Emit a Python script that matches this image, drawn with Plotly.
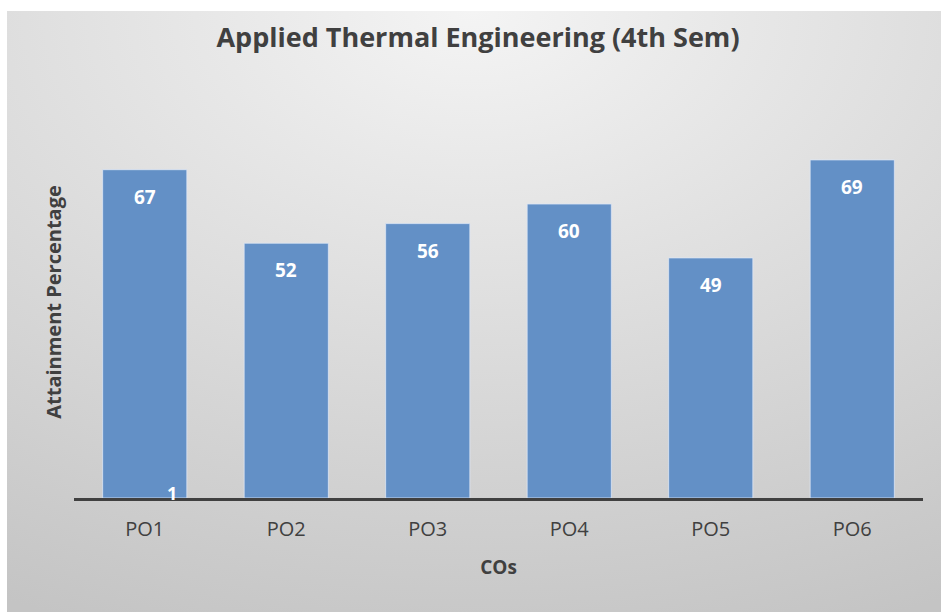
import plotly.graph_objects as go
import urllib.parse

categories = ["PO1", "PO2", "PO3", "PO4", "PO5", "PO6"]
values = [67, 52, 56, 60, 49, 69]
extra_label_cat = "PO1"
extra_label_text = "1"

title_text = "Applied Thermal Engineering (4th Sem)"
x_title = "COs"
y_title = "Attainment Percentage"

W, H = 941, 612
L, R, T, B = 74, 18, 106, 114
pw, ph = W - L - R, H - T - B
FONT = "Open Sans"
TXT = "#404040"

svg = (
    '<svg xmlns="http://www.w3.org/2000/svg" width="934" height="601" viewBox="0 0 934 601" preserveAspectRatio="none">'
    '<defs><radialGradient id="g" cx="50%" cy="0%" r="110%" fx="50%" fy="0%">'
    '<stop offset="0%" stop-color="#f4f4f4"/><stop offset="100%" stop-color="#c4c4c4"/>'
    '</radialGradient></defs><rect width="934" height="601" fill="url(#g)"/></svg>'
)
src = "data:image/svg+xml;charset=utf-8," + urllib.parse.quote(svg)

bx0, by0, bx1, by1 = 7, 11, 941, 612
img = dict(
    source=src, xref="paper", yref="paper",
    x=(bx0 - L) / pw, y=1 + (T - by0) / ph,
    sizex=(bx1 - bx0) / pw, sizey=(by1 - by0) / ph,
    xanchor="left", yanchor="top", sizing="stretch", layer="below",
)

fig = go.Figure()
fig.add_trace(go.Bar(
    x=categories, y=values,
    marker=dict(color="#6390c6", line=dict(color="rgba(220,230,245,0.8)", width=1)),
    hoverinfo="x+y",
))

annotations = []
for c, v in zip(categories, values):
    annotations.append(dict(
        x=c, y=v, xref="x", yref="y", text=str(v), showarrow=False,
        yshift=-27, font=dict(family=FONT, size=19, color="white", weight="bold"),
    ))
annotations.append(dict(
    x=extra_label_cat, y=0, xref="x", yref="y", text=extra_label_text, showarrow=False,
    xshift=27, yanchor="bottom", yshift=-9,
    font=dict(family=FONT, size=18, color="white", weight="bold"),
))

fig.update_layout(
    width=W, height=H,
    margin=dict(l=L, r=R, t=T, b=B, pad=0, autoexpand=False),
    paper_bgcolor="white", plot_bgcolor="rgba(0,0,0,0)",
    images=[img],
    showlegend=False,
    bargap=0.405,
    title=dict(text=title_text, x=(478 - L) / pw, xref="paper", xanchor="center",
               y=1 - 38 / H, yanchor="middle",
               font=dict(family=FONT, size=27, color=TXT, weight="bold")),
    xaxis=dict(
        showline=True, linecolor="#404040", linewidth=3, automargin=False,
        ticks="", showgrid=False, ticklabelstandoff=11,
        tickfont=dict(family=FONT, size=20, color=TXT),
        title=dict(text=x_title, font=dict(family=FONT, size=19, color=TXT, weight="bold"), standoff=20),
    ),
    yaxis=dict(
        range=[0, 80], showticklabels=False, showgrid=False, zeroline=False, showline=False,
        ticks="", automargin=False,
        title=dict(text=y_title, font=dict(family=FONT, size=20, color=TXT, weight="bold"), standoff=6),
    ),
    annotations=annotations,
)

fig.write_html("out.html", config={"displayModeBar": False},
               post_script="document.body.style.margin='0';")
